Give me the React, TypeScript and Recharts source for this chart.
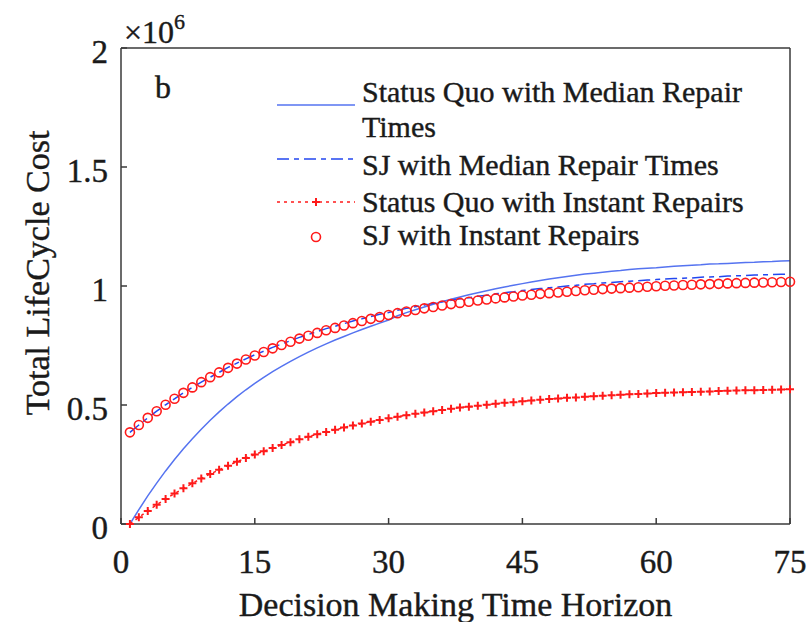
import React from 'react';
import { LineChart, Line, XAxis, YAxis, Legend } from 'recharts';

// decision horizon (years)
const years = [
  1, 2, 3, 4, 5, 6, 7, 8, 9, 10, 11, 12, 13, 14, 15, 16, 17, 18, 19, 20,
  21, 22, 23, 24, 25, 26, 27, 28, 29, 30, 31, 32, 33, 34, 35, 36, 37, 38, 39, 40,
  41, 42, 43, 44, 45, 46, 47, 48, 49, 50, 51, 52, 53, 54, 55, 56, 57, 58, 59, 60,
  61, 62, 63, 64, 65, 66, 67, 68, 69, 70, 71, 72, 73, 74, 75,
];

// total life cycle cost, x 10^6
const statusQuoMedian = [
  0, 0.060, 0.118, 0.172, 0.223, 0.271, 0.316, 0.358, 0.398, 0.436,
  0.471, 0.504, 0.535, 0.564, 0.591, 0.616, 0.640, 0.662, 0.683, 0.703,
  0.722, 0.740, 0.757, 0.773, 0.788, 0.803, 0.817, 0.831, 0.844, 0.857,
  0.875, 0.888, 0.900, 0.912, 0.923, 0.934, 0.944, 0.954, 0.963, 0.972,
  0.980, 0.988, 0.996, 1.003, 1.010, 1.017, 1.023, 1.029, 1.035, 1.040,
  1.045, 1.050, 1.054, 1.058, 1.062, 1.065, 1.069, 1.072, 1.075, 1.077,
  1.080, 1.083, 1.085, 1.087, 1.089, 1.092, 1.093, 1.095, 1.097, 1.099,
  1.100, 1.102, 1.103, 1.105, 1.106,
];

const sjMedian = [
  0.385, 0.416, 0.446, 0.474, 0.501, 0.526, 0.551, 0.574, 0.596, 0.617,
  0.637, 0.658, 0.676, 0.694, 0.711, 0.726, 0.742, 0.756, 0.770, 0.784,
  0.796, 0.809, 0.821, 0.831, 0.842, 0.853, 0.862, 0.872, 0.881, 0.889,
  0.898, 0.906, 0.913, 0.920, 0.927, 0.934, 0.940, 0.946, 0.951, 0.957,
  0.961, 0.967, 0.972, 0.976, 0.981, 0.985, 0.989, 0.993, 0.996, 1.000,
  1.003, 1.007, 1.009, 1.013, 1.015, 1.018, 1.020, 1.022, 1.025, 1.027,
  1.029, 1.031, 1.033, 1.034, 1.037, 1.038, 1.039, 1.042, 1.043, 1.044,
  1.046, 1.047, 1.048, 1.049, 1.050,
];

const statusQuoInstant = [
  0, 0.028, 0.055, 0.081, 0.105, 0.128, 0.150, 0.171, 0.191, 0.210,
  0.228, 0.245, 0.262, 0.277, 0.292, 0.306, 0.319, 0.332, 0.344, 0.356,
  0.367, 0.377, 0.387, 0.396, 0.405, 0.414, 0.422, 0.430, 0.437, 0.444,
  0.451, 0.457, 0.463, 0.469, 0.474, 0.479, 0.484, 0.489, 0.493, 0.497,
  0.501, 0.505, 0.509, 0.512, 0.516, 0.519, 0.522, 0.525, 0.527, 0.530,
  0.532, 0.535, 0.537, 0.539, 0.541, 0.543, 0.545, 0.546, 0.548, 0.550,
  0.551, 0.552, 0.554, 0.555, 0.556, 0.557, 0.559, 0.560, 0.561, 0.562,
  0.562, 0.563, 0.564, 0.565, 0.566,
];

const sjInstant = [
  0.385, 0.416, 0.446, 0.474, 0.501, 0.526, 0.551, 0.574, 0.596, 0.617,
  0.637, 0.656, 0.674, 0.691, 0.708, 0.723, 0.738, 0.752, 0.766, 0.779,
  0.791, 0.803, 0.814, 0.824, 0.834, 0.844, 0.853, 0.862, 0.870, 0.878,
  0.886, 0.893, 0.899, 0.906, 0.912, 0.918, 0.924, 0.929, 0.934, 0.939,
  0.943, 0.948, 0.952, 0.956, 0.960, 0.963, 0.967, 0.970, 0.973, 0.976,
  0.979, 0.982, 0.984, 0.987, 0.989, 0.991, 0.993, 0.995, 0.997, 0.999,
  1.001, 1.002, 1.004, 1.005, 1.007, 1.008, 1.009, 1.011, 1.012, 1.013,
  1.014, 1.015, 1.016, 1.017, 1.018,
];

const xTicks = [0, 15, 30, 45, 60, 75];
const yTicks = [0, 0.5, 1, 1.5, 2];

const names = [
  'Status Quo with Median Repair',
  'Times',
  'SJ with Median Repair Times',
  'Status Quo with Instant Repairs',
  'SJ with Instant Repairs',
];

const data = years.map((year, i) => ({
  year,
  sqMedian: statusQuoMedian[i],
  sjMedian: sjMedian[i],
  sqInstant: statusQuoInstant[i],
  sjInstant: sjInstant[i],
}));

const FONT = '"Liberation Serif", "Times New Roman", serif';
const INK = '#1a1a1a';
const AXIS = '#3a3a3a';
const BLUE_SOLID = '#5573f0';
const BLUE_DASH = '#2347f0';
const RED = '#ff1a1a';

// thin outline makes the serif text look a little heavier, like the source
const textStyle = { fontFamily: FONT, fill: INK, stroke: INK, strokeWidth: 0.4 };
const tickStyle = { ...textStyle, fontSize: 33 };
const axisLineStyle = { stroke: AXIS, strokeWidth: 1.5 };

const PlusDot = (props: any) => {
  const { cx, cy, index } = props;
  if (cx == null || cy == null) return null;
  return (
    <path
      key={`plus-${index}`}
      d={`M${cx - 4},${cy}H${cx + 4}M${cx},${cy - 4}V${cy + 4}`}
      stroke={RED}
      strokeWidth={2}
      fill="none"
    />
  );
};

const LegendBox = () => (
  <svg width={540} height={200} style={{ display: 'block', overflow: 'visible' }}>
    <g fontFamily={FONT} fontSize={30} fill={INK} stroke={INK} strokeWidth={0.4}>
      <text x={102} y={42}>{names[0]}</text>
      <text x={102} y={77}>{names[1]}</text>
      <text x={102} y={115}>{names[2]}</text>
      <text x={102} y={152}>{names[3]}</text>
      <text x={102} y={185}>{names[4]}</text>
    </g>
    <line x1={17} y1={45} x2={95} y2={45} stroke={BLUE_SOLID} strokeWidth={1.5} />
    <line x1={17} y1={99} x2={95} y2={99} stroke={BLUE_DASH} strokeWidth={1.5} strokeDasharray="12 5 5 5" />
    <line x1={17} y1={142} x2={95} y2={142} stroke={RED} strokeWidth={1.5} strokeDasharray="3 4" />
    <path d="M52,142H60M56,138V146" stroke={RED} strokeWidth={2} fill="none" />
    <circle cx={56} cy={177} r={4.5} stroke={RED} strokeWidth={1.6} fill="none" />
  </svg>
);

export default function App() {
  return (
    <div style={{ position: 'absolute', left: 0, top: 0, width: 811, height: 622, background: '#fff' }}>
      <LineChart
        width={811}
        height={622}
        data={data}
        margin={{ top: 47, right: 20, bottom: 38, left: 41 }}
      >
        <XAxis
          xAxisId="b"
          dataKey="year"
          type="number"
          domain={[0, 75]}
          ticks={xTicks}
          height={60}
          tick={tickStyle}
          tickSize={-6}
          tickMargin={32}
          axisLine={axisLineStyle}
          tickLine={axisLineStyle}
          label={{
            value: 'Decision Making Time Horizon',
            position: 'bottom',
            offset: 8,
            style: { ...textStyle, fontSize: 34 },
          }}
        />
        <XAxis
          xAxisId="t"
          orientation="top"
          type="number"
          domain={[0, 75]}
          ticks={xTicks}
          allowDataOverflow
          height={1}
          tick={false}
          tickSize={-6}
          axisLine={axisLineStyle}
          tickLine={axisLineStyle}
        />
        <YAxis
          yAxisId="l"
          type="number"
          domain={[0, 2]}
          ticks={yTicks}
          width={80}
          tick={{ ...tickStyle, dy: 3 }}
          tickSize={-6}
          tickMargin={19}
          axisLine={axisLineStyle}
          tickLine={axisLineStyle}
          label={{
            value: 'Total LifeCycle Cost',
            angle: -90,
            position: 'center',
            dx: -44,
            dy: -13,
            style: { ...textStyle, fontSize: 34 },
          }}
        />
        <YAxis
          yAxisId="r"
          orientation="right"
          type="number"
          domain={[0, 2]}
          ticks={yTicks}
          allowDataOverflow
          width={1}
          tick={false}
          tickSize={-6}
          axisLine={axisLineStyle}
          tickLine={axisLineStyle}
        />
        <Legend
          layout="vertical"
          align="center"
          verticalAlign="middle"
          wrapperStyle={{ left: 260, top: 60, width: 540, height: 200 }}
          content={() => <LegendBox />}
        />
        <Line
          xAxisId="b"
          yAxisId="l"
          dataKey="sqMedian"
          stroke={BLUE_SOLID}
          strokeWidth={1.5}
          dot={false}
          isAnimationActive={false}
        />
        <Line
          xAxisId="b"
          yAxisId="l"
          dataKey="sjMedian"
          stroke={BLUE_DASH}
          strokeWidth={1.5}
          strokeDasharray="12 5 5 5"
          dot={false}
          isAnimationActive={false}
        />
        <Line
          xAxisId="b"
          yAxisId="l"
          dataKey="sqInstant"
          stroke={RED}
          strokeWidth={1.5}
          strokeDasharray="3 4"
          dot={PlusDot}
          isAnimationActive={false}
        />
        <Line
          xAxisId="b"
          yAxisId="l"
          dataKey="sjInstant"
          stroke="none"
          dot={{ r: 4.5, stroke: RED, strokeWidth: 1.6, fill: 'none' }}
          isAnimationActive={false}
        />
      </LineChart>
      <svg
        width={811}
        height={622}
        style={{ position: 'absolute', left: 0, top: 0, pointerEvents: 'none' }}
      >
        <g fontFamily={FONT} fill={INK} stroke={INK} strokeWidth={0.4}>
          <text x={124} y={43} fontSize={32}>
            ×10<tspan dy={-14} fontSize={22}>6</tspan>
          </text>
          <text x={155} y={98} fontSize={32}>b</text>
        </g>
      </svg>
    </div>
  );
}
